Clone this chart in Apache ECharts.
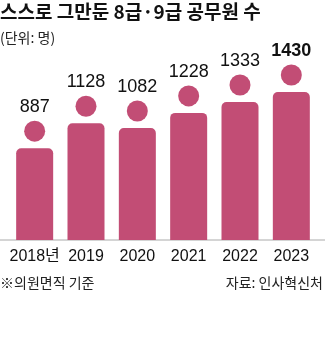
<!DOCTYPE html>
<html><head><meta charset="utf-8">
<script src="https://cdn.jsdelivr.net/npm/echarts@6/dist/echarts.min.js"></script>
<style>html,body{margin:0;padding:0;background:#fff}#c{width:331px;height:351px}</style>
</head><body><div id="c"></div>
<script>
const categories = ['2018년', '2019', '2020', '2021', '2022', '2023'];
const values = [887, 1128, 1082, 1228, 1333, 1430];
const titleText = '스스로 그만둔 8급·9급 공무원 수';
const unitText = '(단위: 명)';
const noteText = '※의원면직 기준';
const sourceText = '자료: 인사혁신처';

const PINK = '#c24d75';
const NARROW = '"DejaVu Sans Condensed", "Liberation Sans", "Noto Sans CJK KR", sans-serif';
const LAB = '"Liberation Sans", "Noto Sans CJK KR", sans-serif';
const KR = '"Noto Sans CJK KR", sans-serif';

const chart = echarts.init(document.getElementById('c'), null, {renderer: 'canvas'});
chart.setOption({
  animation: false,
  backgroundColor: '#fff',
  grid: {left: 9, right: 14, top: 33, bottom: 111, containLabel: false},
  xAxis: {
    type: 'category', data: categories,
    axisLine: {show: false}, axisTick: {show: false},
    axisLabel: {color: '#111', fontSize: 16, fontFamily: LAB, margin: 9, interval: 0}
  },
  yAxis: {type: 'value', min: 0, max: 2000, show: false, splitLine: {show: false}},
  series: [
    {
      type: 'bar', data: values.map((v, i) => ({
        value: v,
        label: i === values.length - 1 ? {fontWeight: 'bold'} : {}
      })),
      barWidth: 37,
      itemStyle: {color: PINK, borderRadius: [5, 5, 0, 0]},
      label: {show: true, position: 'top', distance: 32, color: '#111', fontSize: 18, fontFamily: LAB}
    },
    {
      type: 'scatter', data: values, symbol: 'circle', symbolSize: 21,
      symbolOffset: [0, -17], itemStyle: {color: PINK, opacity: 1}, z: 3
    }
  ],
  graphic: [
    {type: 'line', shape: {x1: 0, y1: 240, x2: 325, y2: 240}, style: {stroke: '#aaa', lineWidth: 1}},
    {type: 'text', left: 0, top: 2, style: {text: titleText, font: 'bold 19px ' + KR, fill: '#111'}},
    {type: 'text', left: 0, top: 31, style: {text: unitText, font: '14px ' + KR, fill: '#222'}},
    {type: 'text', left: 0, top: 276, style: {text: noteText, font: '14px ' + KR, fill: '#222'}},
    {type: 'text', right: 8, top: 276, style: {text: sourceText, font: '14px ' + KR, fill: '#222'}}
  ]
});
</script></body></html>
